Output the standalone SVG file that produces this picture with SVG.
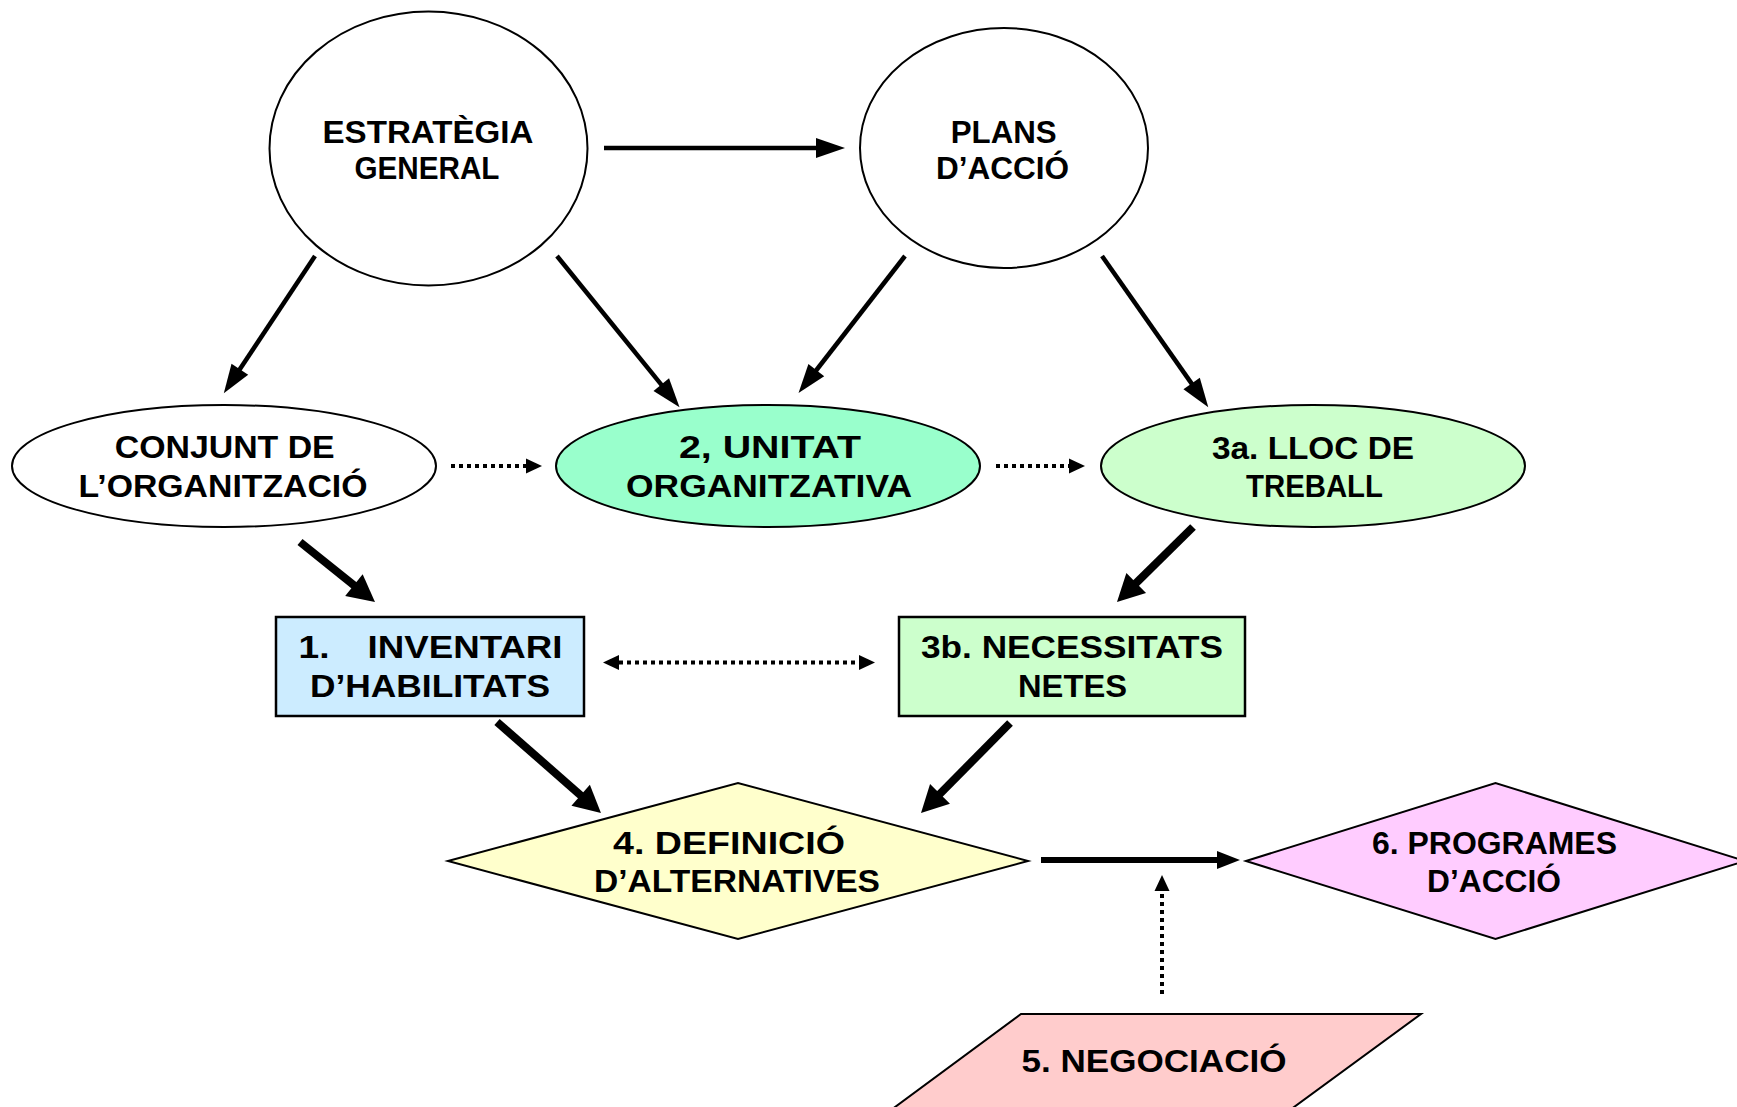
<svg xmlns="http://www.w3.org/2000/svg" width="1737" height="1107" viewBox="0 0 1737 1107">
  <style>
    .shape { stroke: #000; stroke-width: 2; }
    .box { stroke: #000; stroke-width: 2.5; }
    .lbl { font-family: "Comic Sans MS", "Liberation Sans", "DejaVu Sans", sans-serif; font-weight: bold; font-size: 31px; fill: #000; text-anchor: middle; }
    .thin { stroke: #000; stroke-width: 4.5; fill: none; marker-end: url(#headThin); }
    .thick { stroke: #000; stroke-width: 8; fill: none; marker-end: url(#headThick); }
    .flow { stroke: #000; stroke-width: 6; fill: none; marker-end: url(#headFlow); }
    .dots { stroke: #000; stroke-width: 4; stroke-dasharray: 4 4; fill: none; marker-end: url(#headDot); }
  </style>
  <defs>
    <!-- arrowheads: each path starts at the head base (refX=0) and points along +x -->
    <marker id="headThin" markerUnits="userSpaceOnUse" markerWidth="30" markerHeight="24" refX="0" refY="12" orient="auto" overflow="visible">
      <path d="M-1,2 L28,12 L-1,22 Z" fill="#000"/>
    </marker>
    <marker id="headThick" markerUnits="userSpaceOnUse" markerWidth="30" markerHeight="30" refX="0" refY="15" orient="auto" overflow="visible">
      <path d="M-1,1 L26,15 L-1,29 Z" fill="#000"/>
    </marker>
    <marker id="headFlow" markerUnits="userSpaceOnUse" markerWidth="24" markerHeight="20" refX="0" refY="10" orient="auto" overflow="visible">
      <path d="M-1,1 L22,10 L-1,19 Z" fill="#000"/>
    </marker>
    <marker id="headDot" markerUnits="userSpaceOnUse" markerWidth="18" markerHeight="16" refX="0" refY="8" orient="auto" overflow="visible">
      <path d="M0,0.5 L16,8 L0,15.5 Z" fill="#000"/>
    </marker>
    <marker id="headDotStart" markerUnits="userSpaceOnUse" markerWidth="18" markerHeight="16" refX="0" refY="8" orient="auto-start-reverse" overflow="visible">
      <path d="M0,0.5 L16,8 L0,15.5 Z" fill="#000"/>
    </marker>
  </defs>

  <rect width="1737" height="1107" fill="#fff"/>

  <g id="connectors">
    <!-- strategy to plans -->
    <path class="thin" d="M604,148 L817,148"/>
    <!-- top level down to the second row -->
    <path class="thin" d="M315,256 L239.3,370"/>
    <path class="thin" d="M557,256 L661.9,385.4"/>
    <path class="thin" d="M905,256 L815.7,371"/>
    <path class="thin" d="M1102,256 L1192.2,384.4"/>
    <!-- dotted links along the second row -->
    <path class="dots" d="M451,466 L526,466"/>
    <path class="dots" d="M996,466 L1069,466"/>
    <!-- second row down to the boxes -->
    <path class="thick" d="M300,542 L354.7,585.8"/>
    <path class="thick" d="M1193,527 L1135.5,583.7"/>
    <!-- two-way dotted link between the boxes -->
    <path class="dots" d="M619,662.5 L859,662.5" marker-start="url(#headDotStart)"/>
    <!-- boxes down to the alternatives -->
    <path class="thick" d="M497,722 L581.4,795.9"/>
    <path class="thick" d="M1010,723 L939.3,794.5"/>
    <!-- alternatives to action programmes -->
    <path class="flow" d="M1041,860 L1218,860"/>
    <!-- negotiation feeds the flow -->
    <path class="dots" d="M1162,994 L1162,891"/>
  </g>

  <g id="estrategia">
    <ellipse class="shape" cx="428.5" cy="148.5" rx="159" ry="137" fill="#fff"/>
    <text class="lbl" x="428" y="143" textLength="211" lengthAdjust="spacingAndGlyphs">ESTRATÈGIA</text>
    <text class="lbl" x="427" y="179" textLength="145" lengthAdjust="spacingAndGlyphs">GENERAL</text>
  </g>

  <g id="plans">
    <ellipse class="shape" cx="1004" cy="148" rx="144" ry="120" fill="#fff"/>
    <text class="lbl" x="1003.7" y="143" textLength="106" lengthAdjust="spacingAndGlyphs">PLANS</text>
    <text class="lbl" x="1002.5" y="179" textLength="133" lengthAdjust="spacingAndGlyphs">D’ACCIÓ</text>
  </g>

  <g id="conjunt">
    <ellipse class="shape" cx="224" cy="466" rx="212" ry="61" fill="#fff"/>
    <text class="lbl" x="224.7" y="458" textLength="220" lengthAdjust="spacingAndGlyphs">CONJUNT DE</text>
    <text class="lbl" x="223" y="497" textLength="289" lengthAdjust="spacingAndGlyphs">L’ORGANITZACIÓ</text>
  </g>

  <g id="unitat">
    <ellipse class="shape" cx="768" cy="466" rx="212" ry="61" fill="#99FFCC"/>
    <text class="lbl" x="770" y="458" textLength="182" lengthAdjust="spacingAndGlyphs">2, UNITAT</text>
    <text class="lbl" x="769" y="497" textLength="286" lengthAdjust="spacingAndGlyphs">ORGANITZATIVA</text>
  </g>

  <g id="lloc">
    <ellipse class="shape" cx="1313" cy="466" rx="212" ry="61" fill="#CCFFCC"/>
    <text class="lbl" x="1313" y="459" textLength="202" lengthAdjust="spacingAndGlyphs">3a. LLOC DE</text>
    <text class="lbl" x="1314.5" y="497" textLength="137" lengthAdjust="spacingAndGlyphs">TREBALL</text>
  </g>

  <g id="inventari">
    <rect class="box" x="276" y="617" width="308" height="99" fill="#CCECFF"/>
    <text class="lbl" y="658" style="text-anchor:start"><tspan x="298.5" textLength="31" lengthAdjust="spacingAndGlyphs">1.</tspan><tspan x="367.5" textLength="195" lengthAdjust="spacingAndGlyphs">INVENTARI</tspan></text>
    <text class="lbl" x="430" y="697" textLength="240" lengthAdjust="spacingAndGlyphs">D’HABILITATS</text>
  </g>

  <g id="necessitats">
    <rect class="box" x="899" y="617" width="346" height="99" fill="#CCFFCC"/>
    <text class="lbl" x="1072" y="658" textLength="302" lengthAdjust="spacingAndGlyphs">3b. NECESSITATS</text>
    <text class="lbl" x="1072.5" y="697" textLength="109" lengthAdjust="spacingAndGlyphs">NETES</text>
  </g>

  <g id="definicio">
    <polygon class="shape" points="448,861 738,783 1028,861 738,939" fill="#FFFFCC"/>
    <text class="lbl" x="729" y="854" textLength="232" lengthAdjust="spacingAndGlyphs">4. DEFINICIÓ</text>
    <text class="lbl" x="737" y="892" textLength="286" lengthAdjust="spacingAndGlyphs">D’ALTERNATIVES</text>
  </g>

  <g id="programes">
    <polygon class="shape" points="1246,861 1495.5,783 1745,861 1495.5,939" fill="#FFCCFF"/>
    <text class="lbl" x="1494.5" y="854" textLength="245" lengthAdjust="spacingAndGlyphs">6. PROGRAMES</text>
    <text class="lbl" x="1494" y="892" textLength="134" lengthAdjust="spacingAndGlyphs">D’ACCIÓ</text>
  </g>

  <g id="negociacio">
    <polygon class="shape" points="1021,1014 1421,1014 1290,1110 891,1110" fill="#FFCCCC"/>
    <text class="lbl" x="1154" y="1072" textLength="265" lengthAdjust="spacingAndGlyphs">5. NEGOCIACIÓ</text>
  </g>
</svg>
